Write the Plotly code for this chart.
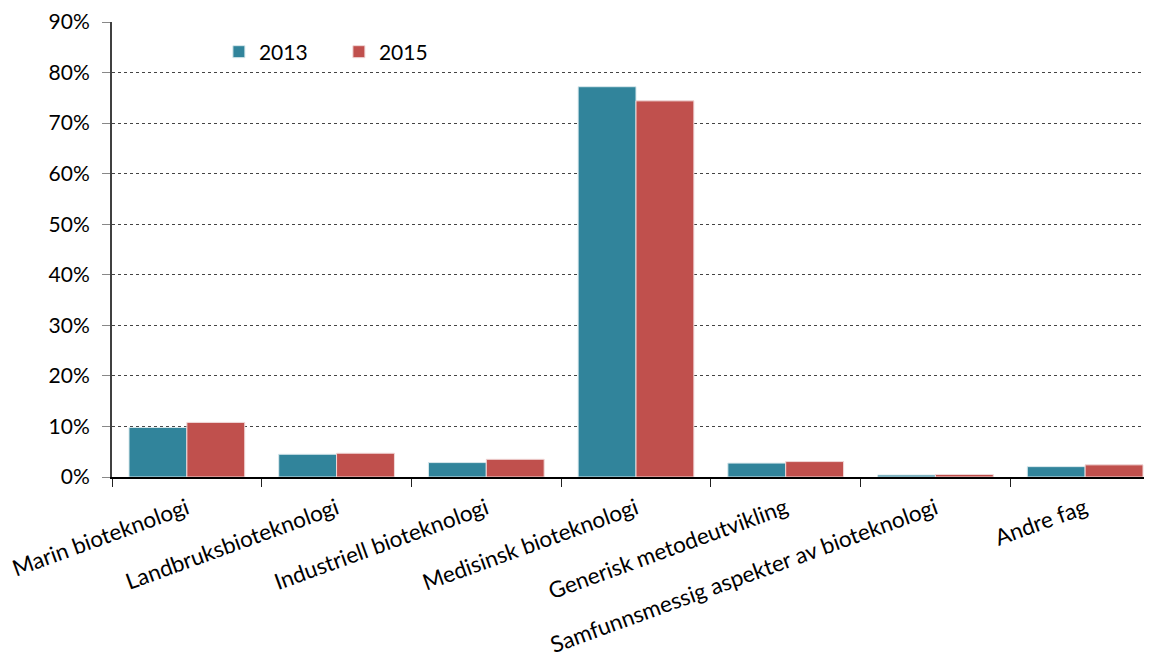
import plotly.graph_objects as go

categories = ["Marin bioteknologi", "Landbruksbioteknologi", "Industriell bioteknologi",
              "Medisinsk bioteknologi", "Generisk metodeutvikling",
              "Samfunnsmessig aspekter av bioteknologi", "Andre fag"]
values_2013 = [9.8, 4.5, 2.85, 77.2, 2.75, 0.4, 2.05]
values_2015 = [10.8, 4.7, 3.5, 74.4, 3.05, 0.5, 2.4]
y_ticks = [0, 10, 20, 30, 40, 50, 60, 70, 80, 90]
y_ticktext = [f"{v}%" for v in y_ticks]

fig = go.Figure()
fig.add_trace(go.Bar(name="2013", x=categories, y=values_2013,
                     marker_color="#31849B", marker_line=dict(color="#d8e8ec", width=1)))
fig.add_trace(go.Bar(name="2015", x=categories, y=values_2015,
                     marker_color="#C0504D", marker_line=dict(color="#f0d8d8", width=1)))

# page body has an 8px margin, so the figure is offset by 8px on screen
fig.update_layout(
    width=1152, height=652,
    margin=dict(l=104, r=0, t=14, b=183, autoexpand=False),
    paper_bgcolor="white", plot_bgcolor="white",
    font=dict(family="Lato, Open Sans, sans-serif", size=21, color="black"),
    barmode="group", bargap=0.227, bargroupgap=0,
    legend=dict(orientation="h", x=0.102, y=0.934, xanchor="left", yanchor="middle",
                font=dict(size=21), entrywidth=75, bgcolor="rgba(0,0,0,0)"),
    showlegend=True,
)
fig.update_xaxes(range=[-0.5, 6.5], tickangle=-20, tickson="boundaries",
                 ticks="outside", ticklen=8, tickcolor="#222", showline=True,
                 linecolor="black", linewidth=1.5, showgrid=False, fixedrange=True,
                 automargin=False, tickfont=dict(size=22.5), ticklabelstandoff=8)
fig.update_yaxes(range=[0, 90], tickvals=y_ticks, ticktext=y_ticktext,
                 ticks="outside", ticklen=8, tickcolor="#888", showline=True,
                 linecolor="#404040", linewidth=2, showgrid=True, gridcolor="#444",
                 griddash="dot", gridwidth=1, zeroline=False, automargin=False,
                 ticklabelstandoff=8, tickfont=dict(size=21))

fig.write_html("out.html")
